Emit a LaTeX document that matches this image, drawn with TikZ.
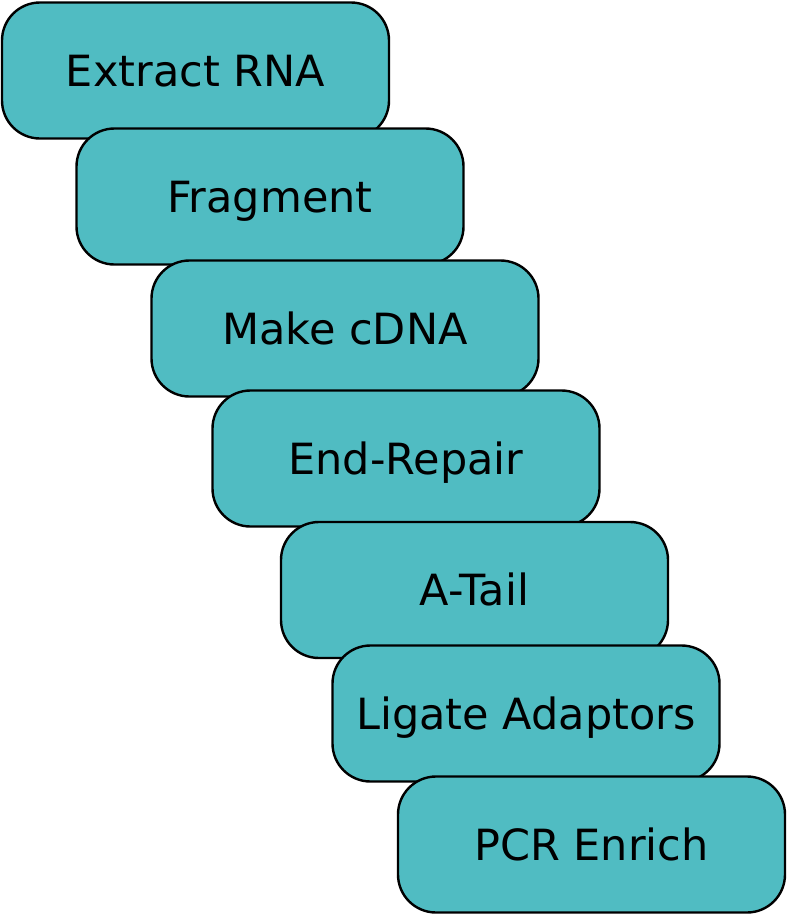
\documentclass[tikz,border=0pt]{standalone}
\usepackage{fontspec}
\setmainfont{DejaVu Sans}
\usepackage{xcolor}
\usepackage{tikz}
\definecolor{stepteal}{RGB}{80, 188, 194}

\tikzset{
  stepbox/.style={draw=black, line width=2.4pt, fill=stepteal, rounded corners=38pt,
    minimum width=387pt, minimum height=136pt, inner sep=0pt,
    font=\fontsize{43pt}{50pt}\selectfont, text height=31pt, text depth=0pt}
}

\begin{document}
\begin{tikzpicture}[x=1pt, y=-1pt]
  \useasboundingbox (0,0) rectangle (787,916);
  % Workflow steps, each one laid over the one before
  \node[stepbox] (extract) at (195.5, 70.5) {Extract RNA};
  \node[stepbox] (fragment) at (270, 196.5) {Fragment};
  \node[stepbox] (cdna) at (345, 328.5) {Make cDNA};
  \node[stepbox] (repair) at (406, 458.5) {End-Repair};
  \node[stepbox] (atail) at (474.5, 590) {A-Tail};
  \node[stepbox] (ligate) at (526, 713.5) {Ligate Adaptors};
  \node[stepbox] (pcr) at (591.5, 844.5) {PCR Enrich};
\end{tikzpicture}
\end{document}
